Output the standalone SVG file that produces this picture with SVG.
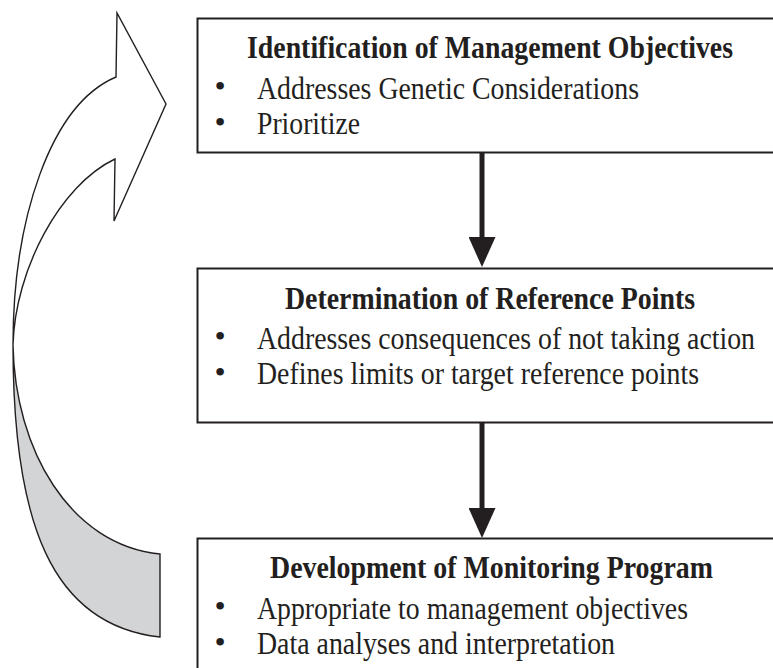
<svg xmlns="http://www.w3.org/2000/svg" width="773" height="668" viewBox="0 0 773 668">
<style>
.box{fill:#fff;stroke:#231f20;stroke-width:2}
.title{font-family:"Liberation Serif","Times New Roman",serif;font-weight:bold;font-size:31px;fill:#231f20}
.item{font-family:"Liberation Serif","Times New Roman",serif;font-size:32px;fill:#231f20}
.bul{font-family:"Liberation Serif","Times New Roman",serif;font-size:32px;fill:#231f20;text-anchor:middle}
.conn{stroke:#231f20;stroke-width:5;fill:none}
.ribbon{stroke:#231f20;stroke-width:1.4;stroke-linejoin:miter}
</style>
<defs>
<marker id="ah" markerUnits="userSpaceOnUse" markerWidth="30" markerHeight="27" refX="3" refY="13.5" orient="auto">
<path d="M0,0 L30,13.5 L0,27 Z" fill="#231f20"/>
</marker>
</defs>
<rect width="773" height="668" fill="#fff"/>

<g id="feedback-arrow">
<path class="ribbon" fill="#d3d4d6" d="M13,345 C13,520 50,625 160,637 L160,554 C70,545 15,450 13,345 Z"/>
<path class="ribbon" fill="#fff" d="M116,77 L117,13 L166,104 L114,221 L115,159 C60,185 15,270 13,345 C13,220 50,105 116,77 Z"/>
</g>

<g id="connectors">
<line class="conn" x1="482" y1="153" x2="482" y2="240" marker-end="url(#ah)"/>
<line class="conn" x1="482" y1="423" x2="482" y2="511" marker-end="url(#ah)"/>
</g>

<g id="node-objectives">
<rect class="box" x="197.5" y="18.5" width="600" height="134"/>
<text class="title" transform="translate(247,58) scale(0.9,1)" textLength="540" lengthAdjust="spacingAndGlyphs">Identification of Management Objectives</text>
<text class="bul" x="220" y="97">•</text>
<text class="item" transform="translate(257,98.5) scale(0.8,1)" textLength="477.5" lengthAdjust="spacingAndGlyphs">Addresses Genetic Considerations</text>
<text class="bul" x="220" y="132.5">•</text>
<text class="item" transform="translate(257,134) scale(0.8,1)" textLength="128.75" lengthAdjust="spacingAndGlyphs">Prioritize</text>
</g>

<g id="node-reference">
<rect class="box" x="197.5" y="268.5" width="600" height="154"/>
<text class="title" transform="translate(285,308.5) scale(0.9,1)" textLength="455.6" lengthAdjust="spacingAndGlyphs">Determination of Reference Points</text>
<text class="bul" x="220" y="347">•</text>
<text class="item" transform="translate(257,348.5) scale(0.8,1)" textLength="622.5" lengthAdjust="spacingAndGlyphs">Addresses consequences of not taking action</text>
<text class="bul" x="220" y="382.5">•</text>
<text class="item" transform="translate(257,384) scale(0.8,1)" textLength="552.5" lengthAdjust="spacingAndGlyphs">Defines limits or target reference points</text>
</g>

<g id="node-monitoring">
<rect class="box" x="197.5" y="538.5" width="600" height="150"/>
<text class="title" transform="translate(270,578) scale(0.9,1)" textLength="492.2" lengthAdjust="spacingAndGlyphs">Development of Monitoring Program</text>
<text class="bul" x="220" y="617">•</text>
<text class="item" transform="translate(257,618.5) scale(0.8,1)" textLength="538.75" lengthAdjust="spacingAndGlyphs">Appropriate to management objectives</text>
<text class="bul" x="220" y="652.5">•</text>
<text class="item" transform="translate(257,654) scale(0.8,1)" textLength="447.5" lengthAdjust="spacingAndGlyphs">Data analyses and interpretation</text>
</g>
</svg>
